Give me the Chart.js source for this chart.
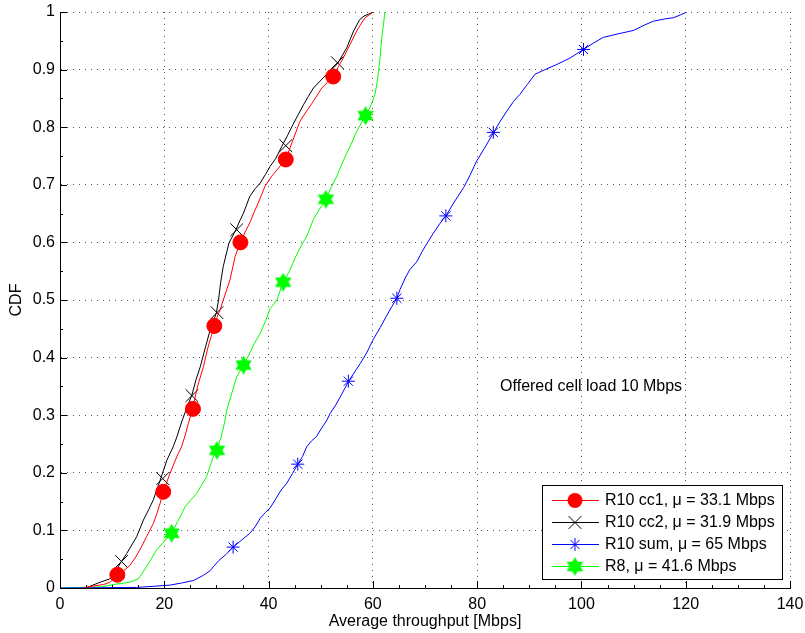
<!DOCTYPE html>
<html>
<head>
<meta charset="utf-8">
<script src="https://cdn.jsdelivr.net/npm/chart.js@4.4.1/dist/chart.umd.min.js"></script>
<style>
  html, body { margin: 0; padding: 0; background: #fff; }
</style>
</head>
<body>
<canvas id="cdfChart" width="805" height="633"></canvas>
<script>
// CDF curves, [throughput Mbps, CDF]
var cc1Curve = [[4.5,0],[5.4,0.002],[8.3,0.006],[9.6,0.01],[11.0,0.023],[12.2,0.03],[13.4,0.039],[14.4,0.052],[15.3,0.066],[16.6,0.089],[17.9,0.112],[18.6,0.13],[19.2,0.147],[19.8,0.167],[21.1,0.199],[22.4,0.228],[23.3,0.245],[23.9,0.262],[24.6,0.285],[25.4,0.311],[26.0,0.335],[26.6,0.357],[27.5,0.384],[28.3,0.415],[29.0,0.437],[29.6,0.455],[30.2,0.472],[30.7,0.483],[31.5,0.505],[32.6,0.535],[33.6,0.576],[34.6,0.6],[35.5,0.618],[36.4,0.634],[37.2,0.652],[38.0,0.668],[39.3,0.697],[40.6,0.715],[41.9,0.729],[43.3,0.744],[44.6,0.776],[46.0,0.81],[47.3,0.828],[48.6,0.845],[50.2,0.868],[51.3,0.878],[52.4,0.889],[53.4,0.905],[54.3,0.92],[55.6,0.943],[56.9,0.967],[57.7,0.979],[58.5,0.99],[59.3,0.995],[60.1,1]];
var cc2Curve = [[5.0,0],[5.75,0.003],[7.7,0.01],[9.6,0.016],[10.6,0.028],[11.5,0.042],[12.8,0.06],[14.7,0.089],[16.0,0.118],[17.0,0.136],[17.9,0.153],[19.2,0.187],[20.5,0.222],[21.7,0.245],[22.4,0.262],[23.4,0.29],[24.4,0.315],[25.3,0.335],[26.1,0.362],[26.9,0.384],[27.8,0.415],[28.8,0.448],[30.0,0.478],[30.4,0.5],[30.8,0.53],[31.3,0.558],[32.4,0.599],[33.8,0.623],[34.5,0.638],[35.2,0.651],[36.4,0.68],[37.4,0.693],[38.4,0.703],[39.4,0.718],[40.3,0.732],[41.4,0.746],[42.5,0.766],[43.6,0.785],[44.7,0.805],[45.7,0.822],[46.7,0.839],[47.6,0.853],[48.6,0.868],[50.5,0.886],[51.8,0.897],[53.2,0.910],[54.1,0.924],[55.0,0.938],[56.3,0.967],[57.5,0.987],[58.3,0.993],[59.1,0.996],[60.1,1]];
var sumCurve = [[0,0],[14.7,0.001],[18,0.003],[21.1,0.005],[23.5,0.009],[25.6,0.013],[27.5,0.022],[28.8,0.03],[29.4,0.037],[30.5,0.048],[31.8,0.058],[33.2,0.071],[34.8,0.083],[36.4,0.095],[37.4,0.106],[38.4,0.121],[39.4,0.131],[40.3,0.139],[41.4,0.155],[42.4,0.17],[43.5,0.182],[44.6,0.199],[45.6,0.215],[46.5,0.228],[47.3,0.245],[48.2,0.255],[49.2,0.263],[50.2,0.278],[51.1,0.29],[51.8,0.303],[52.9,0.318],[54.0,0.336],[55.3,0.358],[56.5,0.375],[57.6,0.39],[58.8,0.408],[60.1,0.432],[61.4,0.452],[62.6,0.472],[63.6,0.488],[64.6,0.503],[65.2,0.518],[66.2,0.538],[67.1,0.553],[68.4,0.566],[69.5,0.585],[70.5,0.6],[71.6,0.616],[72.8,0.632],[74.0,0.646],[75.6,0.67],[77.4,0.695],[78.6,0.716],[79.9,0.741],[81.5,0.765],[83.1,0.79],[84.4,0.81],[85.7,0.828],[87.0,0.845],[88.2,0.857],[89.6,0.874],[91.1,0.892],[93.0,0.9],[95.3,0.909],[97.8,0.92],[100.4,0.935],[102.3,0.946],[104.2,0.956],[107.0,0.962],[110.0,0.968],[112.0,0.977],[113.8,0.984],[116.0,0.988],[117.6,0.99],[119.0,0.995],[120.2,1]];
var r8Curve = [[0,0],[8,0.002],[10.2,0.006],[13.4,0.01],[15.0,0.016],[15.8,0.026],[16.6,0.037],[17.6,0.052],[18.5,0.066],[19.9,0.08],[21.4,0.095],[22.6,0.116],[24.0,0.141],[25.0,0.152],[26.2,0.164],[27.1,0.178],[28.1,0.193],[29.4,0.228],[30.0,0.238],[30.9,0.262],[31.5,0.285],[32.0,0.309],[33.0,0.34],[33.9,0.367],[35.2,0.387],[36.3,0.406],[37.3,0.425],[38.4,0.442],[39.4,0.463],[40.3,0.485],[41.6,0.5],[42.8,0.531],[44.0,0.55],[45.2,0.575],[46.3,0.595],[47.3,0.61],[48.6,0.64],[49.8,0.658],[51.0,0.675],[52.1,0.697],[53.1,0.715],[54.0,0.735],[55.0,0.755],[56.0,0.774],[56.9,0.793],[58.5,0.819],[59.5,0.835],[60.4,0.857],[60.8,0.877],[61.1,0.897],[61.4,0.923],[61.7,0.955],[62.0,0.975],[62.3,1]];

// marker positions on each curve
var cc1Marks = [[11.0,0.023],[19.8,0.167],[25.5,0.311],[29.6,0.455],[34.6,0.6],[43.3,0.744],[52.4,0.888]];
var cc2Marks = [[11.8,0.046],[19.7,0.19],[25.3,0.334],[30.1,0.478],[33.9,0.622],[43.3,0.768],[53.2,0.912]];
var sumMarks = [[33.2,0.071],[45.6,0.215],[55.3,0.359],[64.6,0.503],[74.0,0.646],[83.1,0.791],[100.4,0.935]];
var r8Marks = [[21.4,0.095],[30.1,0.239],[35.2,0.387],[42.8,0.531],[51.0,0.675],[58.6,0.82]];

var seriesNames = ["R10 cc1, \u03bc = 33.1 Mbps", "R10 cc2, \u03bc = 31.9 Mbps", "R10 sum, \u03bc = 65 Mbps", "R8, \u03bc = 41.6 Mbps"];
var xTicks = [0, 20, 40, 60, 80, 100, 120, 140];
var yTicks = [0, 0.1, 0.2, 0.3, 0.4, 0.5, 0.6, 0.7, 0.8, 0.9, 1];
var noteText = "Offered cell load 10 Mbps";
var notePos = [84.4, 0.35];

var FONT = '"Liberation Sans", Arial, Helvetica, sans-serif';
Chart.defaults.font.family = FONT;
Chart.defaults.font.size = 16;
Chart.defaults.color = "#000";

function toXY(list) {
    return list.map(function (p) { return { x: p[0], y: p[1] }; });
}

// filled six-pointed star, like matlab's hexagram marker
function makeHexagram(size, color) {
    var c = document.createElement("canvas");
    c.width = size;
    c.height = size;
    var g = c.getContext("2d");
    var r = size / 2;
    g.fillStyle = color;
    [-Math.PI / 2, Math.PI / 2].forEach(function (rot) {
        g.beginPath();
        for (var k = 0; k < 3; k++) {
            var a = rot + k * 2 * Math.PI / 3;
            var px = r + r * Math.cos(a), py = r + r * Math.sin(a);
            if (k) g.lineTo(px, py); else g.moveTo(px, py);
        }
        g.closePath();
        g.fill();
    });
    return c;
}
var hexagram = makeHexagram(19, "#00ff00");

var styles = [
    { color: "#ff0000", marker: "circle", radius: 7.5, fill: "#ff0000" },
    { color: "#000000", marker: "crossRot", radius: 9, fill: "#000000" },
    { color: "#0000ff", marker: "star", radius: 6.5, fill: "#0000ff" },
    { color: "#00ff00", marker: hexagram, radius: 9, fill: "#00ff00" }
];
var curves = [cc1Curve, cc2Curve, sumCurve, r8Curve];
var marks = [cc1Marks, cc2Marks, sumMarks, r8Marks];

var datasets = [];
curves.forEach(function (curve, i) {
    datasets.push({
        label: seriesNames[i],
        data: toXY(curve),
        borderColor: styles[i].color,
        borderWidth: 1,
        pointRadius: 0,
        tension: 0,
        fill: false
    });
    datasets.push({
        label: seriesNames[i] + " markers",
        data: toXY(marks[i]),
        showLine: false,
        pointStyle: styles[i].marker,
        pointRadius: styles[i].radius,
        borderColor: styles[i].color,
        backgroundColor: styles[i].fill,
        pointBorderWidth: 1
    });
});

function drawMarker(ctx, i, x, y) {
    var s = styles[i];
    ctx.save();
    ctx.strokeStyle = s.color;
    ctx.fillStyle = s.fill;
    ctx.lineWidth = 1;
    if (s.marker === "circle") {
        ctx.beginPath();
        ctx.arc(x, y, s.radius, 0, Math.PI * 2);
        ctx.fill();
    } else if (s.marker === "crossRot" || s.marker === "star") {
        var d = s.radius * Math.SQRT1_2;
        ctx.beginPath();
        ctx.moveTo(x - d, y - d); ctx.lineTo(x + d, y + d);
        ctx.moveTo(x - d, y + d); ctx.lineTo(x + d, y - d);
        if (s.marker === "star") {
            ctx.moveTo(x - s.radius, y); ctx.lineTo(x + s.radius, y);
            ctx.moveTo(x, y - s.radius); ctx.lineTo(x, y + s.radius);
        }
        ctx.stroke();
    } else {
        ctx.drawImage(s.marker, x - s.marker.width / 2, y - s.marker.height / 2);
    }
    ctx.restore();
}

// inward major and minor ticks on the left and bottom axes
var axisTicks = {
    id: "axisTicks",
    afterDatasetsDraw: function (chart) {
        var ctx = chart.ctx, a = chart.chartArea;
        var x = chart.scales.x, y = chart.scales.y;
        ctx.save();
        ctx.strokeStyle = "#000";
        ctx.lineWidth = 1;
        ctx.beginPath();
        for (var v = 0; v <= 140; v += 5) {
            var px = Math.round(x.getPixelForValue(v)) + 0.5;
            var len = v % 20 === 0 ? 7 : 3;
            ctx.moveTo(px, a.bottom);
            ctx.lineTo(px, a.bottom - len);
        }
        for (var k = 0; k <= 20; k++) {
            var py = Math.round(y.getPixelForValue(k / 20)) + 0.5;
            var l2 = k % 2 === 0 ? 7 : 3;
            ctx.moveTo(a.left, py);
            ctx.lineTo(a.left + l2, py);
        }
        ctx.stroke();
        ctx.restore();
    }
};

// text note and legend box
var extras = {
    id: "extras",
    afterDraw: function (chart) {
        var ctx = chart.ctx, a = chart.chartArea;
        ctx.save();
        ctx.font = "16px " + FONT;
        ctx.fillStyle = "#000";
        ctx.textBaseline = "middle";
        ctx.textAlign = "left";
        ctx.fillText(noteText, chart.scales.x.getPixelForValue(notePos[0]), chart.scales.y.getPixelForValue(notePos[1]));

        var w = 240, h = 94;
        var right = a.right - 8, bottom = a.bottom - 9;
        var left = right - w, top = bottom - h;
        ctx.fillStyle = "#fff";
        ctx.fillRect(left, top, w, h);
        ctx.strokeStyle = "#000";
        ctx.lineWidth = 1;
        ctx.strokeRect(Math.round(left) + 0.5, Math.round(top) + 0.5, w, h);
        seriesNames.forEach(function (name, i) {
            var ry = top + 15 + i * 22;
            ctx.strokeStyle = styles[i].color;
            ctx.beginPath();
            ctx.moveTo(left + 10, Math.round(ry) + 0.5);
            ctx.lineTo(left + 57, Math.round(ry) + 0.5);
            ctx.stroke();
            drawMarker(ctx, i, left + 33, Math.round(ry) + 0.5);
            ctx.fillStyle = "#000";
            ctx.fillText(name, left + 63, ry + 1);
        });
        ctx.restore();
    }
};

var ctx = document.getElementById("cdfChart").getContext("2d");
var cdfChart = new Chart(ctx, {
    type: "line",
    data: { datasets: datasets },
    options: {
        responsive: false,
        animation: false,
        layout: { padding: { top: 12, right: 15, left: 0, bottom: 0 } },
        plugins: {
            legend: { display: false },
            tooltip: { enabled: false }
        },
        scales: {
            x: {
                type: "linear",
                min: 0,
                max: 140,
                afterBuildTicks: function (s) { s.ticks = xTicks.map(function (v) { return { value: v }; }); },
                ticks: { padding: 7, color: "#000", maxRotation: 0 },
                grid: { color: "#555", lineWidth: 1, drawTicks: false },
                border: { display: true, color: "#000", dash: [1, 5] },
                title: { display: true, text: "Average throughput [Mbps]", color: "#000", padding: { top: 0, bottom: 2 } },
                afterFit: function (s) { s.height = 45; s.paddingLeft = 0; s.paddingRight = 0; }
            },
            y: {
                type: "linear",
                min: 0,
                max: 1,
                afterBuildTicks: function (s) { s.ticks = yTicks.map(function (v) { return { value: v }; }); },
                ticks: {
                    padding: 5,
                    color: "#000",
                    callback: function (v) { return String(Number(v.toFixed(1))); }
                },
                grid: { color: "#555", lineWidth: 1, drawTicks: false },
                border: { display: true, color: "#000", dash: [1, 5] },
                title: { display: true, text: "CDF", color: "#000", padding: { top: 7, bottom: 0 } },
                afterFit: function (s) { s.width = 60; s.paddingTop = 0; s.paddingBottom = 0; }
            }
        }
    },
    plugins: [axisTicks, extras]
});
</script>
</body>
</html>
